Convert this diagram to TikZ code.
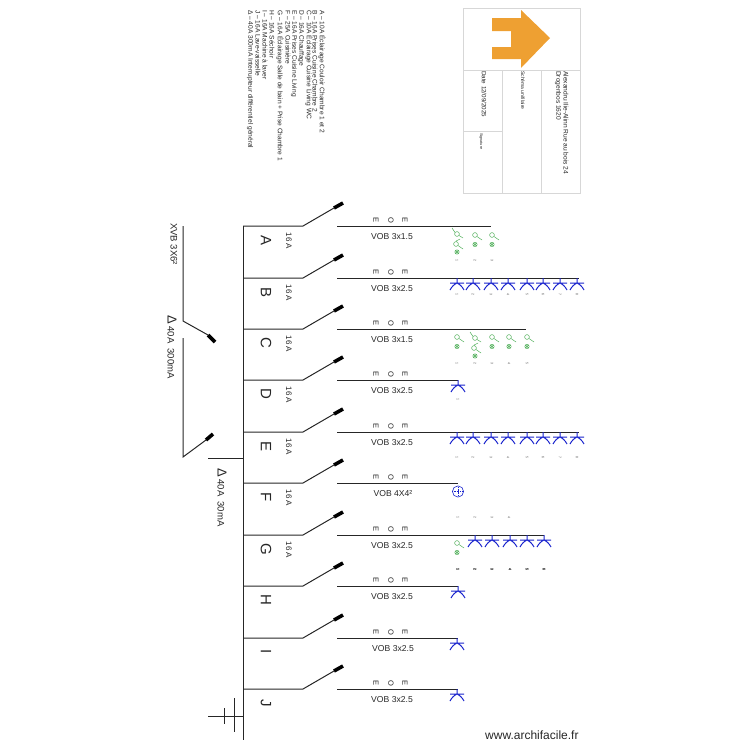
\documentclass[tikz,border=0pt]{standalone}
\usepackage{fontspec}
\setmainfont{Liberation Sans}
\definecolor{lampblue}{RGB}{25,35,205}
\definecolor{lampgreen}{RGB}{70,170,80}
\definecolor{blockgray}{RGB}{215,215,215}
\definecolor{arroworange}{RGB}{238,160,50}
\tikzset{
  wire/.style={draw=black!85,line width=1pt},
  blade/.style={draw=black,line width=3.6pt},
  vtext/.style={rotate=-90,inner sep=0pt,text=black!85},
  legendline/.style={vtext,anchor=west,font=\fontsize{6.6}{7}\selectfont},
  num/.style={vtext,font=\fontsize{3.5}{4}\selectfont,text=black!65},
  cablelabel/.style={inner sep=0pt,font=\fontsize{8.6}{10}\selectfont,text=black!85},
  blockline/.style={draw=blockgray,line width=1pt},
}
\newcommand{\circuit}[6]{% id, y, letter, line end, cable, cable x
  \coordinate (bus#1) at (243,#2);
  \coordinate (sw#1) at (303,#2);
  \coordinate (tip#1) at (334,{#2-18});
  \coordinate (end#1) at (343,{#2-23});
  \coordinate (out#1) at (337,#2);
  \coordinate (last#1) at (#4,#2);
  \draw[wire] (bus#1) -- (sw#1) -- (tip#1);
  \draw[blade] (tip#1) -- (end#1);
  \draw[wire] (out#1) -- (last#1);
  \node[vtext,font=\fontsize{15}{16}\selectfont] at (266,{#2+14}) {#3};
  \node[cablelabel] at (#6,{#2+11}) {#5};
  \foreach \xx/\ch in {376/E,391/O,405/E}
    \node[vtext,font=\fontsize{7.5}{8}\selectfont] at (\xx,{#2-6}) {\ch};
}
\newcommand{\amp}[1]{\node[vtext,font=\fontsize{8}{9}\selectfont] at (289,{#1+15}) {16 A};}
\newcommand{\socket}[2]{% x, line y
  \draw[draw=lampblue,line width=1pt] (#1,#2) -- (#1,{#2+5}) (#1-7,{#2+5}) -- (#1+7,{#2+5})
   (#1-7,{#2+12}) .. controls (#1-5,{#2+8}) and (#1-2,{#2+6}) .. (#1,{#2+5}) .. controls (#1+2,{#2+6}) and (#1+5,{#2+8}) .. (#1+7,{#2+12});
}
\newcommand{\lamp}[2]{% x, y of circle
  \draw[draw=lampgreen,line width=.45pt] (#1,#2) circle (2.4) (#1+2,{#2+1.5}) -- (#1+7,{#2+5});
  \draw[draw=lampgreen,line width=.45pt] (#1,{#2+9.5}) circle (2.2) (#1-1.5,{#2+8}) -- (#1+1.5,{#2+11}) (#1+1.5,{#2+8}) -- (#1-1.5,{#2+11});
}
\newcommand{\duallamp}[2]{% x, y of top circle
  \draw[draw=lampgreen,line width=.45pt] (#1-5,{#2-6}) -- (#1-2,{#2-1.5}) (#1,#2) circle (2.4) (#1+2,{#2+1.5}) -- (#1+6,{#2+4});
  \draw[draw=lampgreen,line width=.45pt] (#1+3,{#2+5}) -- (#1-1,{#2+7}) (#1-1,{#2+10}) circle (2.4) (#1+1,{#2+11.5}) -- (#1+6,{#2+15});
  \draw[draw=lampgreen,line width=.45pt] (#1,{#2+18}) circle (2.2) (#1-1.5,{#2+16.5}) -- (#1+1.5,{#2+19.5}) (#1+1.5,{#2+16.5}) -- (#1-1.5,{#2+19.5});
}
\begin{document}
\begin{tikzpicture}[x=1pt,y=-1pt]
\useasboundingbox (0,0) rectangle (750,750);
% legend
\foreach \xx/\tt in {
 322/{A – 10A Éclairage Couloir Chambre 1 et 2},
 315/{B – 16A Prises Cuisine Chambre 2},
 309/{C – 10A Éclairage Cuisine Living WC},
 301/{D – 16A Chauffage},
 294/{E – 16A Prises Cuisine Living},
 288/{F – 25A Cuisinière},
 280/{G – 16A Éclairage Salle de bain + Prise Chambre 1},
 272/{H – 16A Séchoir},
 265/{I – 16A Machine à laver},
 258/{J – 16A Lave-vaisselle},
 250/{Δ – 40A 300mA Interrupteur différentiel général}}
  \node[legendline] at (\xx,10) {\tt};
% title block
\draw[blockline] (463,8) rectangle (580,193);
\draw[blockline] (463,70) -- (580,70) (502,70) -- (502,193) (541,70) -- (541,193) (463,131) -- (502,131);
\fill[arroworange] (492,18) -- (521,18) -- (521,10) -- (550,38) -- (521,68) -- (521,59) -- (492,59) -- (492,47) -- (511,47) -- (511,31) -- (492,31) -- cycle;
\node[legendline,font=\fontsize{6.6}{7}\selectfont] at (566,71) {Alexandru Ilie-Alinn Rue au bois 24};
\node[legendline,font=\fontsize{6.6}{7}\selectfont] at (558,71) {Drogenbos 1620};
\node[legendline,font=\fontsize{5}{6}\selectfont] at (523,71) {Schéma unifilaire};
\node[legendline,font=\fontsize{6.2}{7}\selectfont] at (484,71) {Date 12/09/2025};
\node[legendline,font=\fontsize{3.8}{4}\selectfont] at (481,133) {Signature};
% feeder
\coordinate (feedA) at (183,226);
\coordinate (feedB) at (183,321);
\coordinate (feedC) at (208,335);
\coordinate (feedD) at (215,342);
\coordinate (rcdA) at (183,338);
\coordinate (rcdB) at (183,457);
\coordinate (rcdC) at (206,440);
\coordinate (rcdD) at (213,434);
\draw[wire] (feedA) -- (feedB) -- (feedC);
\draw[blade] (feedC) -- (feedD);
\draw[wire] (rcdA) -- (rcdB) -- (rcdC);
\draw[blade] (rcdC) -- (rcdD);
\node[vtext,anchor=west,font=\fontsize{9.5}{10}\selectfont] at (174,223) {XVB 3X6²};
\node[vtext,anchor=west,font=\fontsize{9.5}{10}\selectfont] at (172,315) {{\fontsize{13}{13}\selectfont Δ} 40A\ \ 300mA};
\node[vtext,anchor=west,font=\fontsize{9.5}{10}\selectfont] at (222,468) {{\fontsize{13}{13}\selectfont Δ} 40A\ \ 30mA};
% bus and earth
\coordinate (busTop) at (243,226);
\coordinate (busEnd) at (243,740);
\coordinate (tapL) at (208,458);
\coordinate (tapR) at (243,458);
\coordinate (earthL) at (208,716);
\coordinate (earthR) at (243,716);
\draw[wire] (busTop) -- (busEnd);
\draw[wire] (tapL) -- (tapR);
\draw[wire] (earthL) -- (earthR);
\draw[wire] (224,708) -- (224,724) (234,698) -- (234,732);
% circuits
\circuit{A}{226}{A}{491}{VOB 3x1.5}{392}
\circuit{B}{278}{B}{579}{VOB 3x2.5}{392}
\circuit{C}{329}{C}{526}{VOB 3x1.5}{392}
\circuit{D}{380}{D}{458}{VOB 3x2.5}{392}
\circuit{E}{432}{E}{579}{VOB 3x2.5}{392}
\circuit{F}{483}{F}{458}{VOB 4X4²}{393}
\circuit{G}{535}{G}{544}{VOB 3x2.5}{392}
\circuit{H}{586}{H}{458}{VOB 3x2.5}{392}
\circuit{I}{638}{I}{458}{VOB 3x2.5}{393}
\circuit{J}{689}{J}{458}{VOB 3x2.5}{392}
\amp{226}\amp{278}\amp{329}\amp{380}\amp{432}\amp{483}\amp{535}
% row A
\duallamp{457}{234}
\lamp{475}{235}
\lamp{492}{235}
\foreach \xx/\nn in {457/1,475/2,492/3} \node[num] at (\xx,260) {\nn};
% row B and E
\foreach \yy/\ny in {278/294,432/457}{
  \foreach \xx/\nn in {457/1,473/2,491/3,508/4,527/5,543/6,560/7,577/8}{
    \socket{\xx}{\yy}
    \node[num] at (\xx,\ny) {\nn};
  }
}
% row C
\lamp{457}{337}
\duallamp{475}{338}
\lamp{492}{337}
\lamp{509}{337}
\lamp{527}{337}
\foreach \xx/\nn in {457/1,475/2,492/3,509/4,527/5} \node[num] at (\xx,363) {\nn};
% row D
\socket{458}{380}
\node[num] at (458,399) {1};
% row F
\draw[draw=lampblue,line width=.6pt] (458,491.5) circle (5.6);
\draw[draw=lampblue,line width=.6pt,densely dotted] (453.5,491.5) -- (462.5,491.5) (458,487) -- (458,496);
\foreach \xx/\nn in {458/1,475/2,492/3,509/4} \node[num] at (\xx,517) {\nn};
% row G
\lamp{457}{543}
\foreach \xx in {475,492,510,527,544} \socket{\xx}{535}
\foreach \xx/\nn in {458/1,475/2,492/3,510/4,527/5,544/6} \node[num] at (\xx,569) {\nn};
% rows H I J
\socket{458}{586}
\socket{457}{638}
\socket{457}{689}
% watermark
\node[anchor=west,inner sep=0pt,font=\fontsize{12}{14}\selectfont,text=black!85] at (485,735) {www.archifacile.fr};
\end{tikzpicture}
\end{document}
